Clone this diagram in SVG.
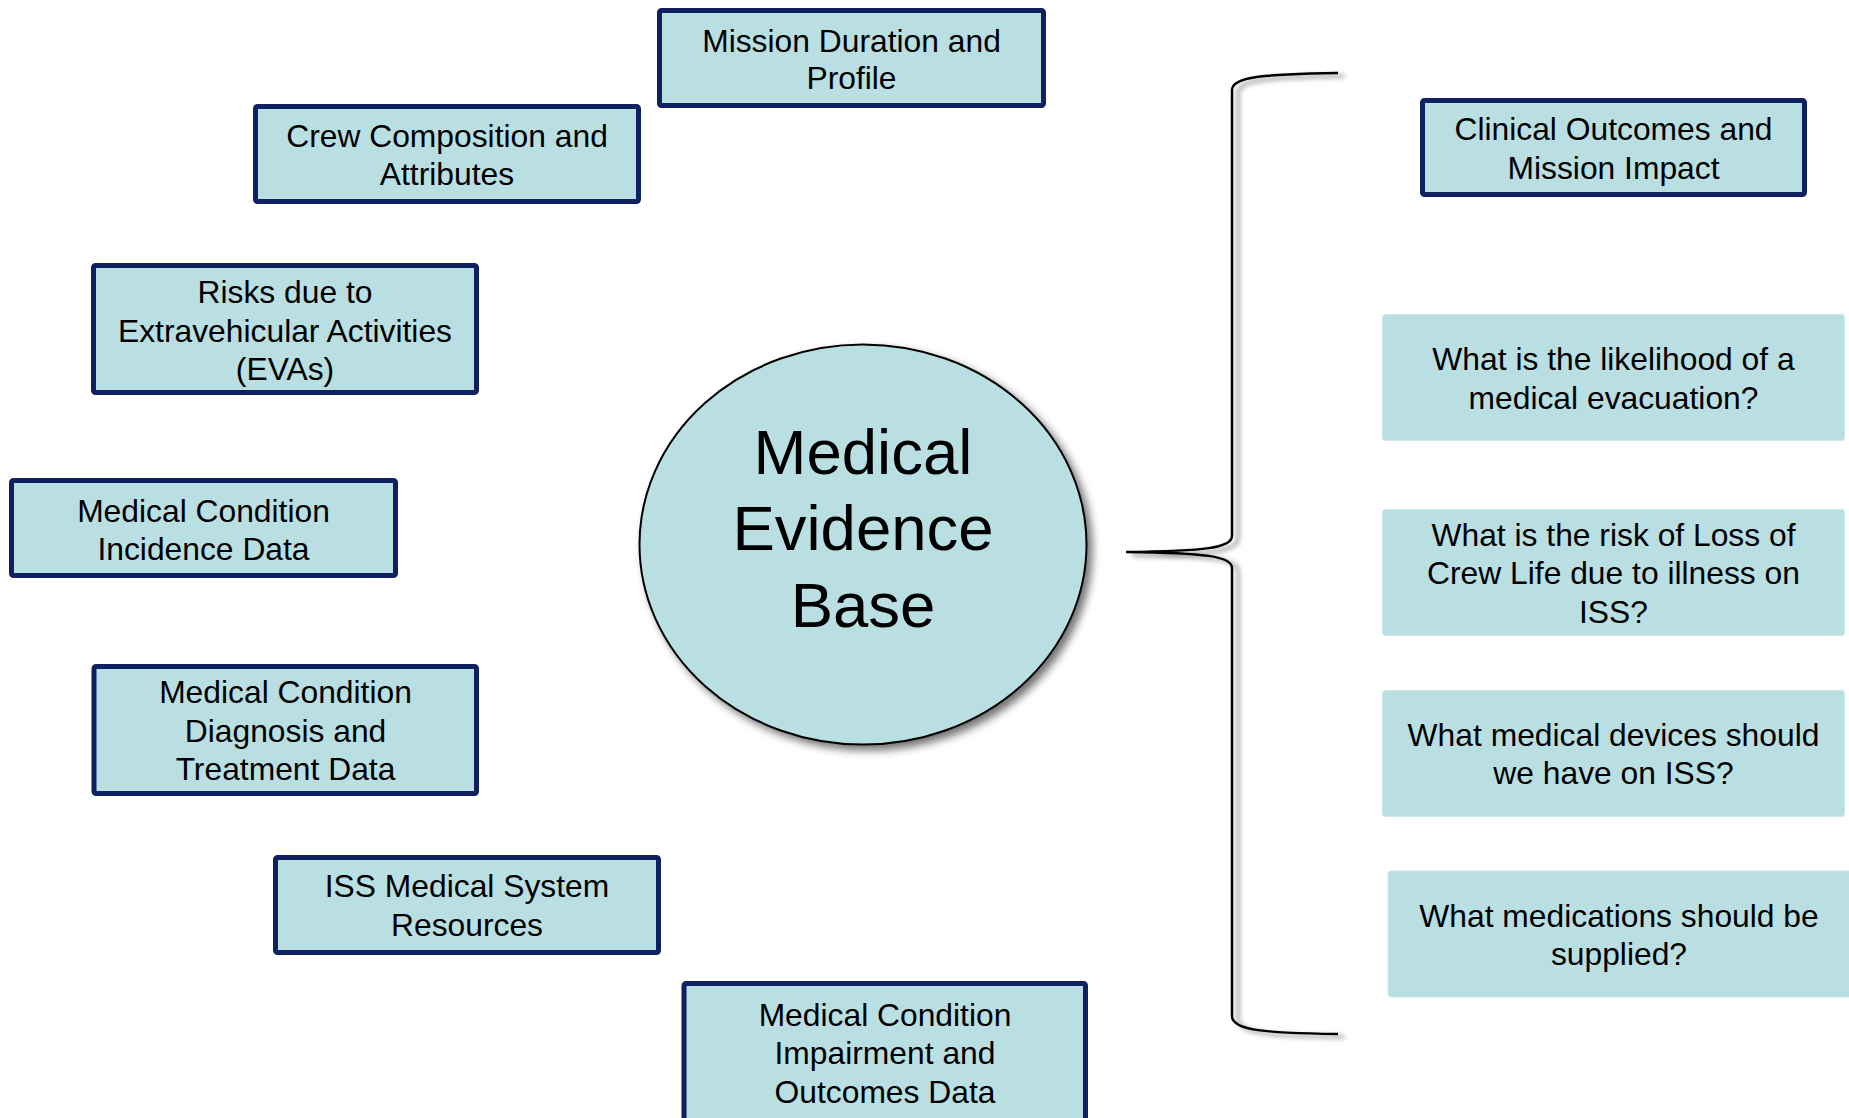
<svg xmlns="http://www.w3.org/2000/svg" width="1849" height="1118" viewBox="0 0 1849 1118">
  <defs>
    <filter id="ovalShadow" x="-10%" y="-10%" width="125%" height="125%">
      <feDropShadow dx="5" dy="5" stdDeviation="4" flood-color="#000" flood-opacity="0.55"/>
    </filter>
    <filter id="braceShadow" x="-20%" y="-5%" width="140%" height="110%">
      <feDropShadow dx="6" dy="3" stdDeviation="2.5" flood-color="#000" flood-opacity="0.5"/>
    </filter>
  </defs>
  <style>
    .box { fill: #B9DFE3; stroke: #0F2160; stroke-width: 5; }
    .q { fill: #B9DFE3; stroke: #C9E6E9; stroke-width: 1; }
    .lbl { font-family: "Liberation Sans", Arial, sans-serif; font-size: 31.8px; fill: #000; text-anchor: middle; }
    .big { font-family: "Liberation Sans", Arial, sans-serif; font-size: 63.5px; fill: #000; text-anchor: middle; }
  </style>
  <rect width="1849" height="1118" fill="#fff"/>

  <!-- bracket joining the evidence base to the questions -->
  <g id="connectors">
    <path d="M1338,73 C1262,74 1232,77 1232,90 L1232,536 C1232,548 1205,551 1126,552 C1205,553 1232,556 1232,568 L1232,1016 C1232,1030 1262,1033 1338,1034"
          fill="none" stroke="#000" stroke-width="2.5" filter="url(#braceShadow)"/>
  </g>

  <g id="mission-duration">
    <rect class="box" x="659.5" y="10.5" width="384" height="95" rx="2"/>
    <text class="lbl" x="851.5" y="52"><tspan x="851.5">Mission Duration and</tspan><tspan x="851.5" y="89">Profile</tspan></text>
  </g>

  <g id="crew-composition">
    <rect class="box" x="255.5" y="106.5" width="383" height="95" rx="2"/>
    <text class="lbl" x="447" y="147"><tspan x="447">Crew Composition and</tspan><tspan x="447" y="184.5">Attributes</tspan></text>
  </g>

  <g id="eva-risks">
    <rect class="box" x="93.5" y="265.5" width="383" height="127" rx="2"/>
    <text class="lbl" x="285" y="302.5"><tspan x="285">Risks due to</tspan><tspan x="285" y="341.5">Extravehicular Activities</tspan><tspan x="285" y="379.5">(EVAs)</tspan></text>
  </g>

  <g id="incidence-data">
    <rect class="box" x="11.5" y="480.5" width="384" height="95" rx="2"/>
    <text class="lbl" x="203.5" y="521.5"><tspan x="203.5">Medical Condition</tspan><tspan x="203.5" y="560">Incidence Data</tspan></text>
  </g>

  <g id="diagnosis-data">
    <rect class="box" x="94" y="666.5" width="382.5" height="127" rx="2"/>
    <text class="lbl" x="285.5" y="703"><tspan x="285.5">Medical Condition</tspan><tspan x="285.5" y="741.5">Diagnosis and</tspan><tspan x="285.5" y="780">Treatment Data</tspan></text>
  </g>

  <g id="iss-resources">
    <rect class="box" x="275.5" y="857.5" width="383" height="95" rx="2"/>
    <text class="lbl" x="467" y="897"><tspan x="467">ISS Medical System</tspan><tspan x="467" y="935.5">Resources</tspan></text>
  </g>

  <g id="impairment-data">
    <rect class="box" x="684" y="983.5" width="401.5" height="145" rx="2"/>
    <text class="lbl" x="885" y="1025.5"><tspan x="885">Medical Condition</tspan><tspan x="885" y="1064">Impairment and</tspan><tspan x="885" y="1102.5">Outcomes Data</tspan></text>
  </g>

  <g id="evidence-base">
    <ellipse cx="863" cy="544.5" rx="223.5" ry="200" fill="#B9DFE3" stroke="#000" stroke-width="2" filter="url(#ovalShadow)"/>
    <text class="big" x="863" y="474"><tspan x="863">Medical</tspan><tspan x="863" y="550">Evidence</tspan><tspan x="863" y="627">Base</tspan></text>
  </g>

  <g id="clinical-outcomes">
    <rect class="box" x="1422.5" y="100.5" width="382" height="94" rx="2"/>
    <text class="lbl" x="1613.5" y="140"><tspan x="1613.5">Clinical Outcomes and</tspan><tspan x="1613.5" y="178.5">Mission Impact</tspan></text>
  </g>

  <g id="q-evacuation">
    <rect class="q" x="1382.5" y="314.5" width="462" height="126" rx="3"/>
    <text class="lbl" x="1613.5" y="370"><tspan x="1613.5">What is the likelihood of a</tspan><tspan x="1613.5" y="409">medical evacuation?</tspan></text>
  </g>

  <g id="q-crew-life">
    <rect class="q" x="1382.5" y="509.5" width="462" height="126" rx="3"/>
    <text class="lbl" x="1613.5" y="546"><tspan x="1613.5">What is the risk of Loss of</tspan><tspan x="1613.5" y="584">Crew Life due to illness on</tspan><tspan x="1613.5" y="622.5">ISS?</tspan></text>
  </g>

  <g id="q-devices">
    <rect class="q" x="1382.5" y="690.5" width="462" height="126" rx="3"/>
    <text class="lbl" x="1613.5" y="746"><tspan x="1613.5">What medical devices should</tspan><tspan x="1613.5" y="784">we have on ISS?</tspan></text>
  </g>

  <g id="q-medications">
    <rect class="q" x="1388" y="871" width="470" height="126" rx="3"/>
    <text class="lbl" x="1619" y="927"><tspan x="1619">What medications should be</tspan><tspan x="1619" y="965">supplied?</tspan></text>
  </g>
</svg>
